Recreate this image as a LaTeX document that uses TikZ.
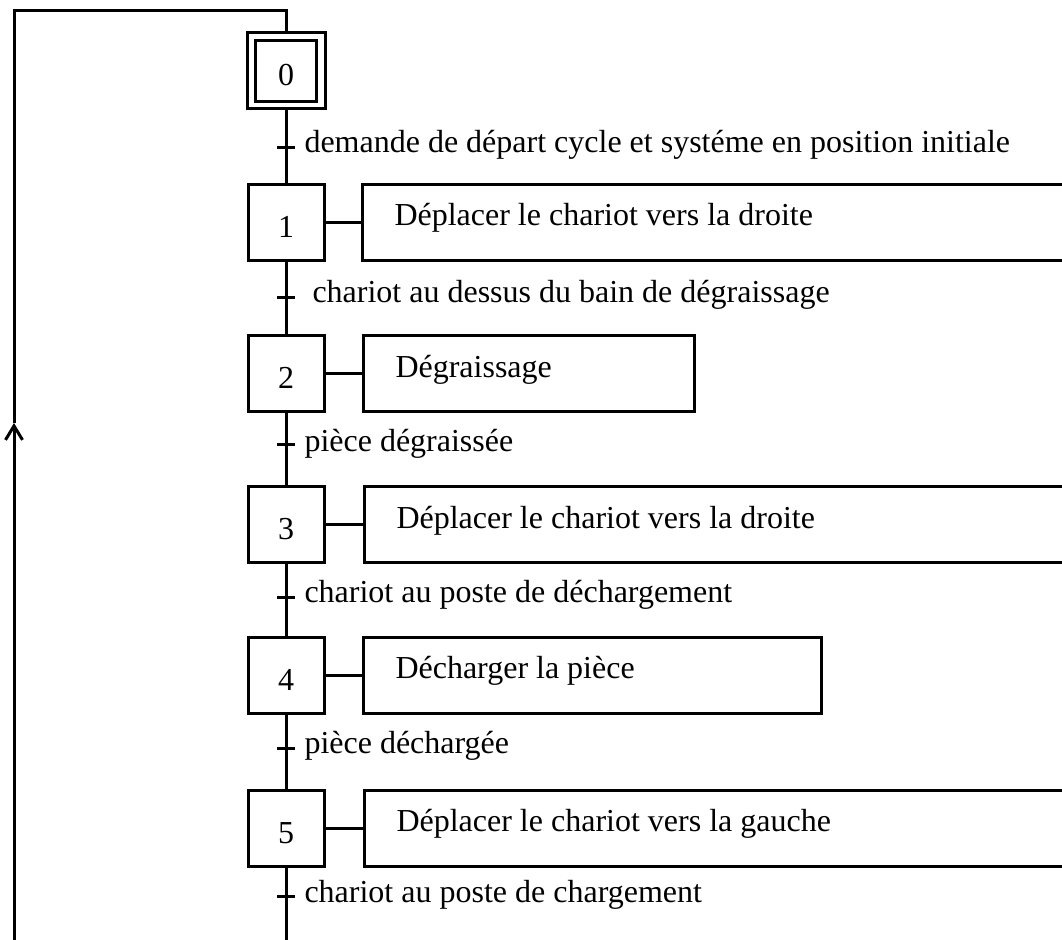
\documentclass[tikz,border=0pt]{standalone}
\usepackage{fontspec}
\setmainfont{Liberation Serif}
\usetikzlibrary{arrows.meta}
\begin{document}
\begin{tikzpicture}[x=1pt,y=-1pt,line width=3pt,
  every node/.style={font=\fontsize{32}{38}\selectfont},
  stepbox/.style={draw,minimum width=76pt,minimum height=76pt,inner sep=0pt,text height=30pt,text depth=0pt},
  actbox/.style={draw,anchor=west,minimum height=76pt,inner xsep=32pt,inner ysep=0pt,
    text height=22pt,text depth=15pt},
  translabel/.style={anchor=base west,inner sep=0pt},
  tick/.style={line width=3pt}]
\useasboundingbox (0,0) rectangle (1062,939);
% steps
\node[stepbox,minimum width=78pt] (s0) at (286,71) {0};
\node[draw,minimum width=61pt,minimum height=61pt,inner sep=0pt] (s0i) at (286,71.5) {};
\node[stepbox] (s1) at (286,222) {1};
\node[stepbox] (s2) at (286,373.5) {2};
\node[stepbox] (s3) at (286,524.5) {3};
\node[stepbox] (s4) at (286,675) {4};
\node[stepbox] (s5) at (286,828) {5};
% actions
\node[actbox] (a1) at (361,222) {\makebox[675pt][l]{Déplacer le chariot vers la droite}};
\node[actbox] (a2) at (362,373.5) {\makebox[267pt][l]{Dégraissage}};
\node[actbox] (a3) at (363,524.5) {\makebox[673pt][l]{Déplacer le chariot vers la droite}};
\node[actbox] (a4) at (362,675) {\makebox[394pt][l]{Décharger la pièce}};
\node[actbox] (a5) at (363,828) {\makebox[673pt][l]{Déplacer le chariot vers la gauche}};
\foreach \i in {1,...,5} {\draw (s\i.east) -- (a\i.west);}
% links between steps
\draw (s0.south) -- (s1.north);
\draw (s1.south) -- (s2.north);
\draw (s2.south) -- (s3.north);
\draw (s3.south) -- (s4.north);
\draw (s4.south) -- (s5.north);
\coordinate (bot) at (286,960);
\draw (s5.south) -- (bot);
% transitions
\coordinate (t1) at (286,147);
\coordinate (t2) at (286,297);
\coordinate (t3) at (286,444);
\coordinate (t4) at (286,597);
\coordinate (t5) at (286,748);
\coordinate (t6) at (286,896);
\foreach \t in {t1,t2,t3,t4,t5,t6} {\draw[tick] ([xshift=-9pt]\t) -- ([xshift=9pt]\t);}
\node[translabel] (l1) at (303,152) {demande de départ cycle et systéme en position initiale};
\node[translabel] (l2) at (311,302) {chariot au dessus du bain de dégraissage};
\node[translabel] (l3) at (303,451) {pièce dégraissée};
\node[translabel] (l4) at (303,602) {chariot au poste de déchargement};
\node[translabel] (l5) at (303,753) {pièce déchargée};
\node[translabel] (l6) at (303,902) {chariot au poste de chargement};
% loop back
\coordinate (L1) at (14,960);
\coordinate (Lm) at (14,423);
\coordinate (L2) at (14,11);
\coordinate (L3) at (286,11);
\draw[-{Straight Barb[length=14pt,width=17pt]}] (L1) -- (Lm);
\draw (Lm) -- (L2) -- (L3) -- (s0.north);
\end{tikzpicture}
\end{document}
